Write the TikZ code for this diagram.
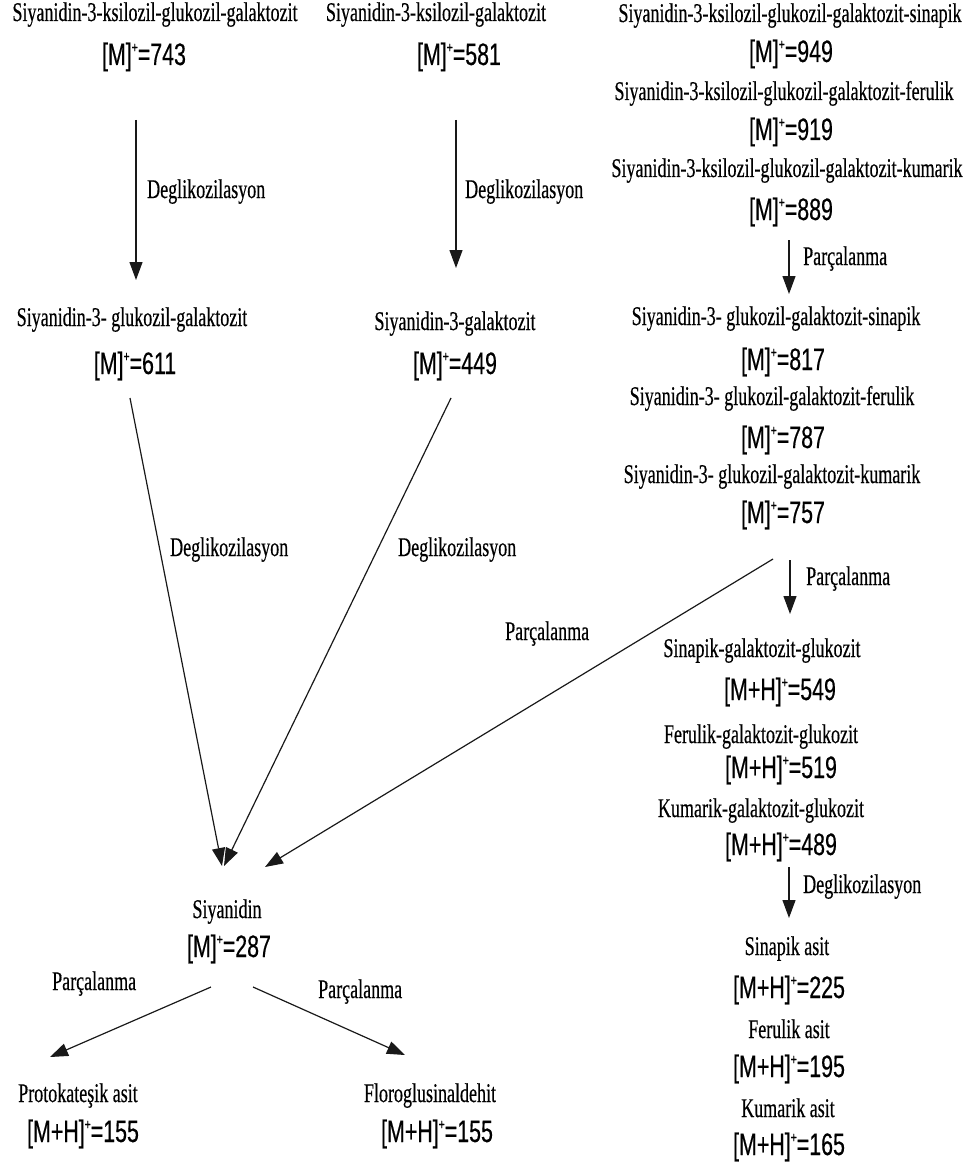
\documentclass[tikz,border=0pt]{standalone}
\usepackage{fontspec}
\setmainfont{Liberation Serif}[FakeStretch=0.667,FakeBold=0.4]
\newfontfamily\numfont{Liberation Sans}[FakeStretch=0.69,FakeBold=0.4]
\usetikzlibrary{arrows.meta}
\newcommand{\plusup}{\raisebox{12.5pt}{\fontsize{15}{15}\selectfont +}}
\newcommand{\mion}[1]{[M]\plusup=#1}
\newcommand{\mhion}[1]{[M+H]\plusup=#1}

\begin{document}
\begin{tikzpicture}[x=1pt,y=-1pt,
    cmpd/.style={anchor=base,inner sep=0pt,font=\fontsize{27}{30}\selectfont},
    mz/.style={anchor=base,inner sep=0pt,font=\numfont\fontsize{31}{34}\selectfont},
    rxn/.style={anchor=base west,inner sep=0pt,font=\fontsize{27}{30}\selectfont},
    arr/.style={-{Triangle[length=18pt,width=13pt]},line width=1.2pt,black!90}]
    \useasboundingbox (0,0) rectangle (973,1169);
    % Column 1
    \node[cmpd] (c743) at (155,21) {Siyanidin-3-ksilozil-glukozil-galaktozit};
    \node[mz] (m743) at (144,65) {\mion{743}};
    \node[cmpd] (c611) at (132,326) {Siyanidin-3- glukozil-galaktozit};
    \node[mz] (m611) at (135,374) {\mion{611}};
    % Column 2
    \node[cmpd] (c581) at (436,21) {Siyanidin-3-ksilozil-galaktozit};
    \node[mz] (m581) at (459,65) {\mion{581}};
    \node[cmpd] (c449) at (455,330) {Siyanidin-3-galaktozit};
    \node[mz] (m449) at (455,374) {\mion{449}};
    % Column 3, first tier
    \node[cmpd] (c949) at (790,22) {Siyanidin-3-ksilozil-glukozil-galaktozit-sinapik};
    \node[mz] (m949) at (791,62) {\mion{949}};
    \node[cmpd] (c919) at (784,100) {Siyanidin-3-ksilozil-glukozil-galaktozit-ferulik};
    \node[mz] (m919) at (791,140) {\mion{919}};
    \node[cmpd] (c889) at (787,177) {Siyanidin-3-ksilozil-glukozil-galaktozit-kumarik};
    \node[mz] (m889) at (791,220) {\mion{889}};
    % Column 3, second tier
    \node[cmpd] (c817) at (776,325) {Siyanidin-3- glukozil-galaktozit-sinapik};
    \node[mz] (m817) at (783,370) {\mion{817}};
    \node[cmpd] (c787) at (772,405) {Siyanidin-3- glukozil-galaktozit-ferulik};
    \node[mz] (m787) at (783,448) {\mion{787}};
    \node[cmpd] (c757) at (772,483) {Siyanidin-3- glukozil-galaktozit-kumarik};
    \node[mz] (m757) at (783,523) {\mion{757}};
    % Column 3, third tier
    \node[cmpd] (c549) at (762,657) {Sinapik-galaktozit-glukozit};
    \node[mz] (m549) at (780,700) {\mhion{549}};
    \node[cmpd] (c519) at (761,743) {Ferulik-galaktozit-glukozit};
    \node[mz] (m519) at (781,778) {\mhion{519}};
    \node[cmpd] (c489) at (761,817) {Kumarik-galaktozit-glukozit};
    \node[mz] (m489) at (781,855) {\mhion{489}};
    % Column 3, acids
    \node[cmpd] (c225) at (787,955) {Sinapik asit};
    \node[mz] (m225) at (789,998) {\mhion{225}};
    \node[cmpd] (c195) at (789,1038) {Ferulik asit};
    \node[mz] (m195) at (789,1077) {\mhion{195}};
    \node[cmpd] (c165) at (788,1117) {Kumarik asit};
    \node[mz] (m165) at (789,1155) {\mhion{165}};
    % Siyanidin and its fragments
    \node[cmpd] (c287) at (227,918) {Siyanidin};
    \node[mz] (m287) at (229,957) {\mion{287}};
    \node[cmpd] (cprot) at (78,1102) {Protokateşik asit};
    \node[mz] (mprot) at (83,1142) {\mhion{155}};
    \node[cmpd] (cflor) at (430,1102) {Floroglusinaldehit};
    \node[mz] (mflor) at (437,1142) {\mhion{155}};
    % Arrow ends
    \coordinate (s743) at (136,120);  \coordinate (e611) at (136,280);
    \coordinate (s581) at (456,120);  \coordinate (e449) at (456,268);
    \coordinate (s889) at (789,240);  \coordinate (e817) at (789,294);
    \coordinate (s757) at (790,560);  \coordinate (e549) at (790,614);
    \coordinate (x757) at (773,559);  \coordinate (x287) at (265,867);
    \coordinate (s489) at (789,867);  \coordinate (e225) at (789,918);
    \coordinate (s611) at (130,398);  \coordinate (l287) at (222,866);
    \coordinate (s449) at (451,398);  \coordinate (r287) at (224,866);
    \coordinate (a287) at (211,987);  \coordinate (eprot) at (50,1057);
    \coordinate (b287) at (253,987);  \coordinate (eflor) at (405,1055);
    % Arrows
    \draw[arr] (s743) -- (e611);
    \draw[arr] (s581) -- (e449);
    \draw[arr] (s889) -- (e817);
    \draw[arr] (s757) -- (e549);
    \draw[arr] (x757) -- (x287);
    \draw[arr] (s489) -- (e225);
    \draw[arr] (s611) -- (l287);
    \draw[arr] (s449) -- (r287);
    \draw[arr] (a287) -- (eprot);
    \draw[arr] (b287) -- (eflor);
    % Arrow labels
    \node[rxn] (d1) at (147,198) {Deglikozilasyon};
    \node[rxn] (d2) at (465,198) {Deglikozilasyon};
    \node[rxn] (p1) at (803,265) {Parçalanma};
    \node[rxn] (p2) at (806,585) {Parçalanma};
    \node[rxn] (p3) at (505,640) {Parçalanma};
    \node[rxn] (d3) at (803,893) {Deglikozilasyon};
    \node[rxn] (d4) at (170,556) {Deglikozilasyon};
    \node[rxn] (d5) at (398,556) {Deglikozilasyon};
    \node[rxn] (p4) at (52,990) {Parçalanma};
    \node[rxn] (p5) at (318,998) {Parçalanma};
\end{tikzpicture}
\end{document}
